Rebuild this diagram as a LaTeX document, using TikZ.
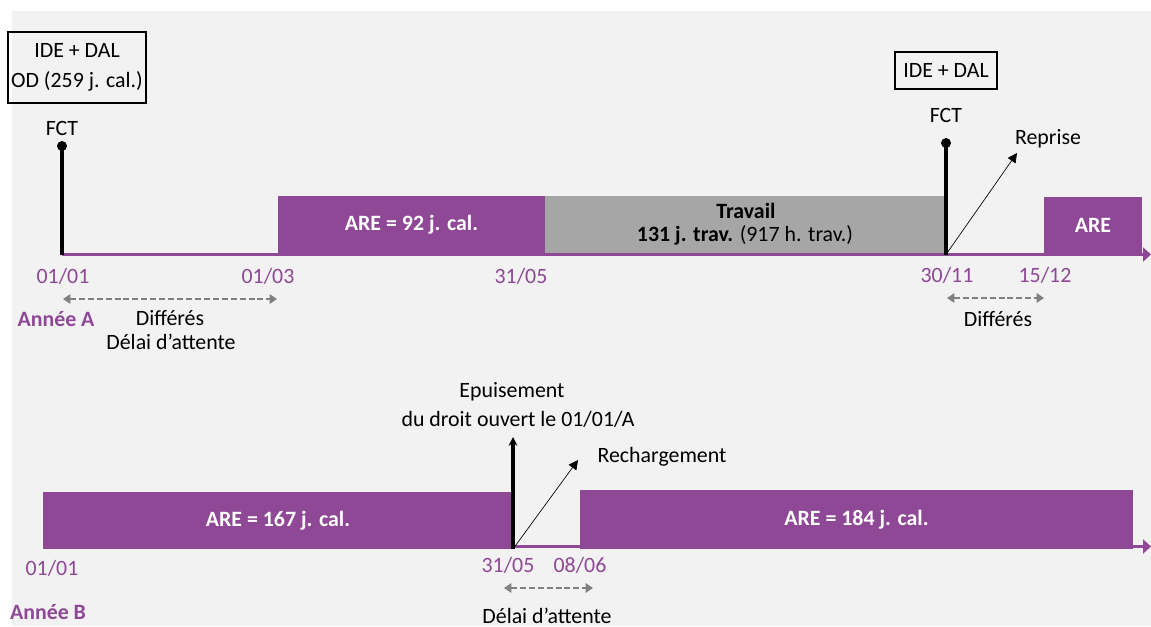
\documentclass[tikz,border=0pt]{standalone}
\usepackage{fontspec}
\setmainfont{Carlito}
\usetikzlibrary{arrows.meta,fit}
\definecolor{pur}{HTML}{8E4896}
\definecolor{bgc}{HTML}{F2F2F2}
\definecolor{travc}{HTML}{A6A6A6}
\definecolor{dashc}{HTML}{808080}
\newcommand\fsz{\fontsize{16.4}{19.5}\selectfont}
\begin{document}
\begin{tikzpicture}[x=0.75pt,y=-0.75pt,
  txt/.style={font=\fsz, inner sep=0pt, text=black},
  datelbl/.style={font=\fsz, inner sep=0pt, text=pur},
  anneelbl/.style={font=\fsz\bfseries, inner sep=0pt, text=pur},
  arebox/.style={fill=pur, draw=none, inner sep=0pt, font=\fsz\bfseries, text=white},
  travbox/.style={fill=travc, draw=none, inner sep=0pt},
  idebox/.style={draw=black, line width=1.2pt, inner sep=0pt, font=\fsz, align=center},
  timeline/.style={pur, line width=2.4pt, -{Triangle[length=6pt,width=10.5pt]}},
  fctstem/.style={black, line width=2.3pt},
  fctdot/.style={circle, fill=black, inner sep=0pt, minimum size=7.5pt},
  thinarrow/.style={black, line width=0.5pt, -{Triangle[length=7pt,width=7pt]}},
  thickarrow/.style={black, line width=2.3pt, -{Stealth[length=6.5pt,width=6.5pt]}},
  dasharrow/.style={dashc, line width=1.8pt, dash pattern=on 4.5pt off 2.2pt,
     {Triangle[length=5.5pt,width=7pt]}-{Triangle[length=5.5pt,width=7pt]}}
]
\useasboundingbox (0,0) rectangle (1151,626);
\fill[bgc] (12,11) rectangle (1151,626);

% ---------- Annee A ----------
\coordinate (a0) at (62,254.5);
\coordinate (aEnd) at (1151,254.5);
\draw[timeline] (a0) -- (aEnd);

\coordinate (r1a) at (278,196); \coordinate (r1b) at (545,253);
\node[arebox, fit=(r1a)(r1b)] (are92) {};
\node[font=\fsz\bfseries, text=white, inner sep=0pt] (are92t) at (are92.center) {ARE = 92 j. cal.};

\coordinate (r2a) at (545,196); \coordinate (r2b) at (946,253);
\node[travbox, fit=(r2a)(r2b)] (trav) {};
\node[font=\fsz\bfseries, inner sep=0pt] (travt1) at (746,211) {Travail};
\node[txt] (travt2) at (745,235) {\textbf{131 j. trav.} (917 h. trav.)};

\coordinate (r3a) at (1044,197); \coordinate (r3b) at (1142,253);
\node[arebox, fit=(r3a)(r3b)] (areA) {};
\node[font=\fsz\bfseries, text=white, inner sep=0pt] (areAt) at (areA.center) {ARE};

% FCT 01/01
\node[fctdot] (dot1) at (62,146) {};
\draw[fctstem] (dot1.center) -- (a0);
\node[txt] (fct1) at (62,128) {FCT};
\node[idebox, minimum width=103.5pt, minimum height=53.25pt] (box1) at (77,67.5)
  {IDE + DAL\\[3.5pt]OD (259 j. cal.)};

% FCT 30/11
\coordinate (b30) at (946,254.5);
\node[fctdot] (dot2) at (946,143) {};
\draw[fctstem] (dot2.center) -- (b30);
\node[txt] (fct2) at (946,115) {FCT};
\node[idebox, minimum width=76.5pt, minimum height=27.75pt] (box2) at (946,70.5) {IDE + DAL};

\coordinate (rep) at (1017,153);
\draw[thinarrow] (b30) -- (rep);
\node[txt] (reprise) at (1048,139) {Reprise};

% dates A
\node[datelbl] (dA1) at (63,276) {01/01};
\node[datelbl] (dA2) at (268,276) {01/03};
\node[datelbl] (dA3) at (521,276) {31/05};
\node[datelbl] (dA4) at (947,275) {30/11};
\node[datelbl] (dA5) at (1045,275) {15/12};

\coordinate (da1) at (63,299); \coordinate (da2) at (277,299);
\draw[dasharrow] (da1) -- (da2);
\node[txt] (diff1) at (170,318) {Différés};
\node[txt] (delai1) at (171,342) {Délai d’attente};
\node[anneelbl] (anA) at (56,319) {Année A};

\coordinate (db1) at (947,298); \coordinate (db2) at (1044,298);
\draw[dasharrow] (db1) -- (db2);
\node[txt] (diff2) at (998,319) {Différés};

% ---------- Annee B ----------
\coordinate (c0) at (43,546.5);
\coordinate (cEnd) at (1151,546.5);
\draw[timeline] (c0) -- (cEnd);

\coordinate (s1a) at (43,492); \coordinate (s1b) at (513,549);
\node[arebox, fit=(s1a)(s1b)] (are167) {};
\node[font=\fsz\bfseries, text=white, inner sep=0pt] (are167t) at (are167.center) {ARE = 167 j. cal.};

\coordinate (s2a) at (580,490); \coordinate (s2b) at (1133,549);
\node[arebox, fit=(s2a)(s2b)] (are184) {};
\node[font=\fsz\bfseries, text=white, inner sep=0pt] (are184t) at (are184.center) {ARE = 184 j. cal.};

\coordinate (e0) at (513,549);
\coordinate (e1) at (513,437);
\draw[thickarrow] (e0) -- (e1);
\node[txt] (epu1) at (512,392) {Epuisement};
\node[txt] (epu2) at (518,419) {du droit ouvert le 01/01/A};

\coordinate (rch) at (578,460);
\draw[thinarrow] (e0) -- (rch);
\node[txt] (rech) at (662,457) {Rechargement};

\node[datelbl] (dB1) at (52,568) {01/01};
\node[datelbl] (dB2) at (508,565) {31/05};
\node[datelbl] (dB3) at (580,565) {08/06};
\node[anneelbl] (anB) at (48,612) {Année B};

\coordinate (dc1) at (504,588); \coordinate (dc2) at (593,588);
\draw[dasharrow] (dc1) -- (dc2);
\node[txt] (delai2) at (547,616) {Délai d’attente};
\end{tikzpicture}
\end{document}
